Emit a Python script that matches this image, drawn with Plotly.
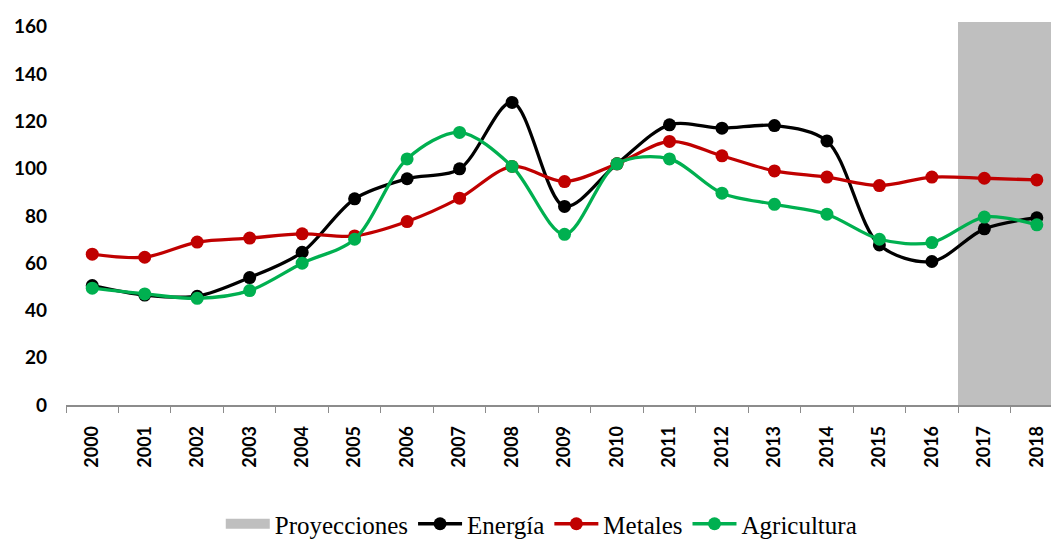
import plotly.graph_objects as go

years = [str(y) for y in range(2000, 2019)]

energia = [50.5, 46.5, 46.0, 53.9, 64.6, 87.2, 95.7, 99.9, 128.0, 84.0,
           102.0, 118.5, 117.1, 118.2, 111.7, 67.7, 60.7, 74.5, 79.2]
metales = [63.8, 62.5, 68.9, 70.6, 72.4, 71.5, 77.6, 87.5, 100.9, 94.5,
           102.0, 111.5, 105.4, 99.0, 96.4, 92.8, 96.4, 95.9, 95.2]
agricultura = [49.4, 47.0, 45.1, 48.4, 60.0, 70.1, 104.1, 115.3, 100.9, 72.2,
               102.0, 104.1, 89.6, 84.9, 80.7, 70.1, 68.7, 79.5, 76.2]

proy_years = ["2017", "2018"]
proy_values = [162, 162]

GRAY = "#bfbfbf"

fig = go.Figure()

# shaded projection band (bars spanning the full height)
fig.add_trace(go.Bar(
    x=proy_years, y=proy_values, name="Proyecciones",
    marker=dict(color=GRAY, line=dict(width=0)),
    width=1.0, hoverinfo="skip", showlegend=False,
))
# wide legend swatch for the band
fig.add_trace(go.Scatter(
    x=[None], y=[None], name="Proyecciones", mode="lines",
    line=dict(color=GRAY, width=16), hoverinfo="skip",
))

series = [
    ("Energía", energia, "#000000"),
    ("Metales", metales, "#c00000"),
    ("Agricultura", agricultura, "#00b050"),
]
for name, vals, col in series:
    fig.add_trace(go.Scatter(
        x=years, y=vals, name=name, mode="lines+markers",
        line=dict(color=col, width=3.3, shape="spline", smoothing=0.9),
        marker=dict(color=col, size=13),
    ))

fig.update_layout(
    width=1051, height=547,
    margin=dict(l=66, r=0, t=22, b=142),
    paper_bgcolor="white", plot_bgcolor="white",
    bargap=0,
    showlegend=True,
    legend=dict(
        orientation="h", x=0.515, xanchor="center", xref="container",
        y=-0.022, yanchor="bottom", yref="container",
        font=dict(family="Liberation Serif", size=25, color="#000000"),
        itemwidth=44, traceorder="normal", tracegroupgap=0,
    ),
    xaxis=dict(
        type="category", categoryorder="array", categoryarray=years,
        range=[-0.5, 18.27],
        showline=True, linecolor="#8c8c8c", linewidth=1.5,
        ticks="outside", tickson="boundaries", ticklen=6,
        tickcolor="#8c8c8c", tickwidth=1.2,
        tickangle=-90, showgrid=False, ticklabelstandoff=12,
        tickfont=dict(family="Lato", size=18, color="#000000", weight="bold"),
    ),
    yaxis=dict(
        range=[0, 162], tickvals=list(range(0, 161, 20)),
        showgrid=False, zeroline=False, showline=False,
        ticks="", ticklabelstandoff=18,
        tickfont=dict(family="Lato", size=19, color="#000000", weight="bold"),
    ),
)

fig.write_html("out.html")
